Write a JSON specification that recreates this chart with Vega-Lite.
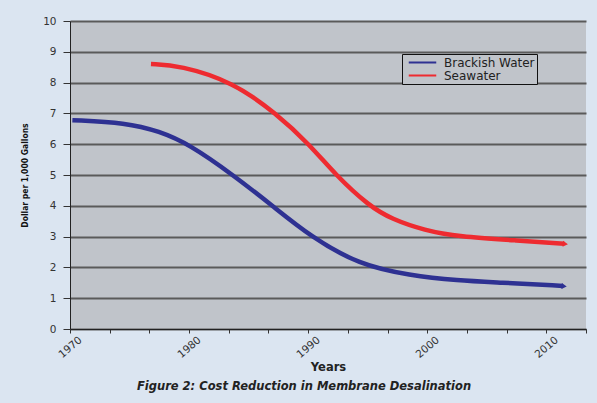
{
  "$schema": "https://vega.github.io/schema/vega-lite/v6.json",
  "width": 516,
  "height": 308,
  "autosize": "none",
  "padding": {"left": 70, "top": 21, "right": 11, "bottom": 74},
  "background": "#dbe5f1",
  "title": {
    "text": "Figure 2: Cost Reduction in Membrane Desalination",
    "orient": "bottom",
    "anchor": "middle",
    "dx": -24,
    "offset": 8,
    "font": "DejaVu Sans",
    "fontSize": 11.5,
    "fontWeight": "bold",
    "fontStyle": "italic",
    "color": "#222222"
  },
  "config": {
    "view": {"fill": "#c0c4ca", "stroke": null},
    "font": "DejaVu Sans"
  },
  "datasets": {
    "curves": [
      {"year": 1970.2, "cost": 6.78, "type": "Brackish Water"},
      {"year": 1974.7, "cost": 6.7, "type": "Brackish Water"},
      {"year": 1977.5, "cost": 6.42, "type": "Brackish Water"},
      {"year": 1980.0, "cost": 6.0, "type": "Brackish Water"},
      {"year": 1983.7, "cost": 5.0, "type": "Brackish Water"},
      {"year": 1987.0, "cost": 4.0, "type": "Brackish Water"},
      {"year": 1990.2, "cost": 3.0, "type": "Brackish Water"},
      {"year": 1994.3, "cost": 2.08, "type": "Brackish Water"},
      {"year": 1998.5, "cost": 1.74, "type": "Brackish Water"},
      {"year": 2002.6, "cost": 1.57, "type": "Brackish Water"},
      {"year": 2006.0, "cost": 1.51, "type": "Brackish Water"},
      {"year": 2011.4, "cost": 1.4, "type": "Brackish Water"},
      {"year": 1976.8, "cost": 8.6, "type": "Seawater"},
      {"year": 1979.2, "cost": 8.56, "type": "Seawater"},
      {"year": 1983.7, "cost": 8.02, "type": "Seawater"},
      {"year": 1987.3, "cost": 7.0, "type": "Seawater"},
      {"year": 1990.1, "cost": 6.0, "type": "Seawater"},
      {"year": 1992.3, "cost": 5.0, "type": "Seawater"},
      {"year": 1995.1, "cost": 4.0, "type": "Seawater"},
      {"year": 1997.0, "cost": 3.57, "type": "Seawater"},
      {"year": 1999.8, "cost": 3.2, "type": "Seawater"},
      {"year": 2002.6, "cost": 3.0, "type": "Seawater"},
      {"year": 2007.7, "cost": 2.87, "type": "Seawater"},
      {"year": 2011.5, "cost": 2.77, "type": "Seawater"}
    ],
    "ends": [
      {"year": 2011.5, "cost": 1.39, "type": "Brackish Water"},
      {"year": 2011.6, "cost": 2.76, "type": "Seawater"}
    ]
  },
  "encoding": {
    "x": {
      "field": "year",
      "type": "quantitative",
      "scale": {"domain": [1970, 2013.333], "nice": false, "zero": false},
      "axis": {
        "title": "Years",
        "titleFont": "DejaVu Sans",
        "titleFontSize": 11.5,
        "titleFontWeight": "bold",
        "titleColor": "#222222",
        "titlePadding": 2,
        "values": [1970, 1973.333, 1976.667, 1980, 1983.333, 1986.667, 1990, 1993.333, 1996.667, 2000, 2003.333, 2006.667, 2010, 2013.333],
        "labelExpr": "abs(datum.value - round(datum.value / 10) * 10) < 0.01 ? format(datum.value, 'd') : ''",
        "labelAngle": -40,
        "labelAlign": "center",
        "labelBaseline": "middle",
        "labelPadding": 14,
        "labelFontSize": 10.5,
        "labelColor": "#333333",
        "labelOverlap": false,
        "labelFlush": false,
        "grid": false,
        "tickSize": 4,
        "tickColor": "#333333",
        "domainColor": "#222222",
        "domainWidth": 1
      }
    },
    "y": {
      "field": "cost",
      "type": "quantitative",
      "scale": {"domain": [0, 10], "nice": false},
      "axis": {
        "title": "Dollar per 1,000 Gallons",
        "titleFont": "Liberation Sans Narrow, DejaVu Sans Condensed, sans-serif",
        "titleFontSize": 8.5,
        "titleFontWeight": "bold",
        "titleColor": "#111111",
        "titlePadding": 13,
        "values": [0, 1, 2, 3, 4, 5, 6, 7, 8, 9, 10],
        "labelOverlap": false,
        "labelFontSize": 10.5,
        "labelColor": "#333333",
        "labelPadding": 7,
        "tickSize": 7,
        "tickColor": "#333333",
        "domainColor": "#222222",
        "domainWidth": 1,
        "grid": true,
        "gridColor": "#5a5a5a",
        "gridWidth": 2
      }
    },
    "color": {
      "field": "type",
      "type": "nominal",
      "scale": {"domain": ["Brackish Water", "Seawater"], "range": ["#2e3192", "#ee2b30"]},
      "legend": {
        "title": null,
        "orient": "none",
        "legendX": 332,
        "legendY": 33,
        "fillColor": "#c0c4ca",
        "strokeColor": "#111111",
        "padding": 2,
        "symbolType": "M-2.5,0H2.5",
        "symbolSize": 121,
        "symbolStrokeWidth": 2,
        "symbolOffset": 12,
        "labelFontSize": 12,
        "labelColor": "#222222",
        "rowPadding": -2,
        "labelOffset": 15
      }
    }
  },
  "layer": [
    {
      "data": {"name": "curves"},
      "mark": {"type": "line", "interpolate": "basis", "strokeWidth": 4.5, "strokeCap": "butt"}
    },
    {
      "data": {"name": "ends"},
      "mark": {"type": "point", "shape": "triangle-right", "filled": true, "size": 35, "opacity": 1, "angle": 5}
    }
  ]
}
